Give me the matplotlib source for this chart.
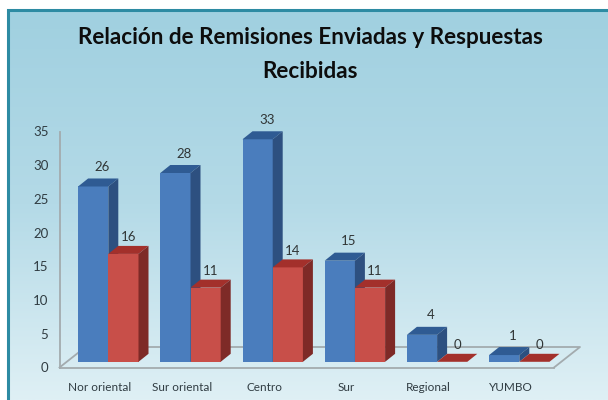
import numpy as np
import matplotlib
matplotlib.use("Agg")
import matplotlib.pyplot as plt
from matplotlib.colors import LinearSegmentedColormap

categories = ["Nor oriental", "Sur oriental", "Centro", "Sur", "Regional", "YUMBO"]
enviadas = [26, 28, 33, 15, 4, 1]
recibidas = [16, 11, 14, 11, 0, 0]
yticks = [0, 5, 10, 15, 20, 25, 30, 35]
title = "Relación de Remisiones Enviadas y Respuestas\nRecibidas"

W, H = 608, 400
plt.rcParams["font.family"] = ["Lato", "DejaVu Sans"]
fig = plt.figure(figsize=(W / 100, H / 100), dpi=100, facecolor="white")

# background panel
bg = fig.add_axes([0, 0, 1, 1], zorder=0)
bg.set_xlim(0, W)
bg.set_ylim(H, 0)
bg.axis("off")
cmap = LinearSegmentedColormap.from_list("bg", ["#a0d0e0", "#b4dae7", "#dff0f5"])
bg.imshow(np.linspace(0, 1, 256)[:, None], cmap=cmap, aspect="auto",
          extent=(7, W, H, 9), zorder=1)
bg.set_xlim(0, W)
bg.set_ylim(H, 0)
bg.plot([7.5, 7.5, W], [H, 9.5, 9.5], color="#2d8ba3", lw=2.2, zorder=2,
        solid_joinstyle="miter")

# plot axes: value 0 sits on the front floor edge
left, right, bottom, top = 59.5, 554, 367.5, 131.5
ax = fig.add_axes([left / W, 1 - bottom / H, (right - left) / W, (bottom - top) / H], zorder=1)
ax.patch.set_alpha(0)
px_x = 82.2
x0 = (108.3 - left) / px_x
ax.set_xlim(-x0, (right - left) / px_x - x0)
ax.set_ylim(0, 35)
px_y = (bottom - top) / 35

grey = "#a3abae"
for s in ("top", "right"):
    ax.spines[s].set_visible(False)
for s in ("left", "bottom"):
    ax.spines[s].set_color(grey)
    ax.spines[s].set_linewidth(1.3)

# floor parallelogram edges
fdx, fdy = 26 / px_x, 20.5 / px_y
xl, xr = ax.get_xlim()
ax.plot([xl, xl + fdx, xr + fdx, xr], [0, fdy, fdy, 0], color=grey, lw=1.3,
        zorder=1, clip_on=False)

bw = 30.2 / px_x
base = 5.7 / px_y
dx, dy = 10 / px_x, 8 / px_y


def bar3d(xc, val, front, topc, side, z):
    ax.bar(xc, val, width=bw, bottom=base, color=front, zorder=z, clip_on=False)
    xa, xb = xc - bw / 2, xc + bw / 2
    yt = base + val
    ax.fill([xa, xb, xb + dx, xa + dx], [yt, yt, yt + dy, yt + dy], color=topc, lw=0,
            zorder=z, clip_on=False)
    ax.fill([xb, xb + dx, xb + dx, xb], [base, base + dy, yt + dy, yt], color=side, lw=0,
            zorder=z, clip_on=False)


x = np.arange(len(categories))
for i in x:
    bar3d(i - bw / 2, enviadas[i], "#4a7dbd", "#2f5b93", "#2d5080", 3 + 2 * i)
    bar3d(i + bw / 2, recibidas[i], "#c84f49", "#a3302b", "#7e2a27", 4 + 2 * i)
    ax.annotate(str(enviadas[i]), (i - bw / 2, base + enviadas[i]), xytext=(6.5, 14),
                textcoords="offset points", ha="center", va="center", fontsize=9.5,
                color="#303535", zorder=40, annotation_clip=False)
    ax.annotate(str(recibidas[i]), (i + bw / 2, base + recibidas[i]), xytext=(3.6, 12),
                textcoords="offset points", ha="center", va="center", fontsize=9.5,
                color="#303535", zorder=40, annotation_clip=False)

ax.set_yticks(yticks)
ax.set_yticklabels([str(v) for v in yticks], fontsize=9.5, color="#303c42")
ax.tick_params(axis="y", length=0, pad=8)
ax.set_xticks(x - 8.5 / px_x)
ax.set_xticklabels(categories, fontsize=8.5, color="#303c42")
ax.tick_params(axis="x", length=0, pad=10.5)

bg.text(310, 54.5, title, ha="center", va="center", fontsize=16.2, fontweight="bold",
        color="#0d0d0d", linespacing=1.8, zorder=5)

fig.savefig("out.png", dpi=100)
